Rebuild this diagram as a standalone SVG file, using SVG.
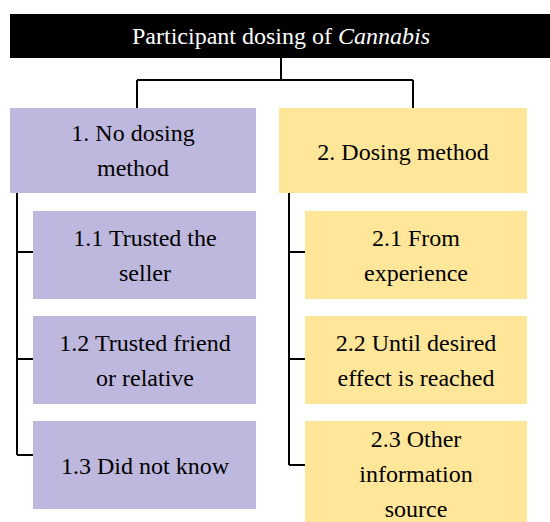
<svg xmlns="http://www.w3.org/2000/svg" id="chart" width="550" height="522" viewBox="0 0 550 522">
  <style>
    #chart text { font-family: "Liberation Serif", "Times New Roman", serif !important; font-size: 24px; text-anchor: middle; fill: #000; }
    #chart text.title { fill: #fff; }
    #chart .purple { fill: #BFB8DE; }
    #chart .yellow { fill: #FFE699; }
    #chart .line { fill: none; stroke: #000; stroke-width: 2; }
  </style>
  <rect x="0" y="0" width="550" height="522" fill="#fff"/>

  <g id="connectors">
    <path class="line" d="M281 58 V80 M137 80 H413 M137 80 V108 M413 80 V108"/>
    <path class="line" d="M17 193 V455 M17 252 H33 M17 359 H33 M17 455 H33"/>
    <path class="line" d="M289 193 V465 M289 252 H305 M289 359 H305 M289 465 H305"/>
  </g>

  <g id="root">
    <rect x="10" y="14" width="540" height="44" fill="#000"/>
    <text class="title" x="281" y="44" style="font-family:'Liberation Serif',serif !important">Participant dosing of <tspan font-style="italic">Cannabis</tspan></text>
  </g>

  <g id="n1">
    <rect class="purple" x="10" y="108" width="246" height="85"/>
    <text x="133" y="141" style="font-family:'Liberation Serif',serif !important">1. No dosing</text>
    <text x="133" y="176" style="font-family:'Liberation Serif',serif !important">method</text>
  </g>
  <g id="n2">
    <rect class="yellow" x="279" y="108" width="248" height="85"/>
    <text x="403" y="160" style="font-family:'Liberation Serif',serif !important">2. Dosing method</text>
  </g>

  <g id="n1-1">
    <rect class="purple" x="33" y="211" width="223" height="88"/>
    <text x="145" y="246" style="font-family:'Liberation Serif',serif !important">1.1 Trusted the</text>
    <text x="145" y="281" style="font-family:'Liberation Serif',serif !important">seller</text>
  </g>
  <g id="n1-2">
    <rect class="purple" x="33" y="316" width="223" height="88"/>
    <text x="145" y="351" style="font-family:'Liberation Serif',serif !important">1.2 Trusted friend</text>
    <text x="145" y="386" style="font-family:'Liberation Serif',serif !important">or relative</text>
  </g>
  <g id="n1-3">
    <rect class="purple" x="33" y="421" width="223" height="88"/>
    <text x="145" y="474" style="font-family:'Liberation Serif',serif !important">1.3 Did not know</text>
  </g>

  <g id="n2-1">
    <rect class="yellow" x="305" y="211" width="222" height="88"/>
    <text x="416" y="246" style="font-family:'Liberation Serif',serif !important">2.1 From</text>
    <text x="416" y="281" style="font-family:'Liberation Serif',serif !important">experience</text>
  </g>
  <g id="n2-2">
    <rect class="yellow" x="305" y="316" width="222" height="88"/>
    <text x="416" y="351" style="font-family:'Liberation Serif',serif !important">2.2 Until desired</text>
    <text x="416" y="386" style="font-family:'Liberation Serif',serif !important">effect is reached</text>
  </g>
  <g id="n2-3">
    <rect class="yellow" x="305" y="421" width="222" height="101"/>
    <text x="416" y="447" style="font-family:'Liberation Serif',serif !important">2.3 Other</text>
    <text x="416" y="482" style="font-family:'Liberation Serif',serif !important">information</text>
    <text x="416" y="517" style="font-family:'Liberation Serif',serif !important">source</text>
  </g>
</svg>
